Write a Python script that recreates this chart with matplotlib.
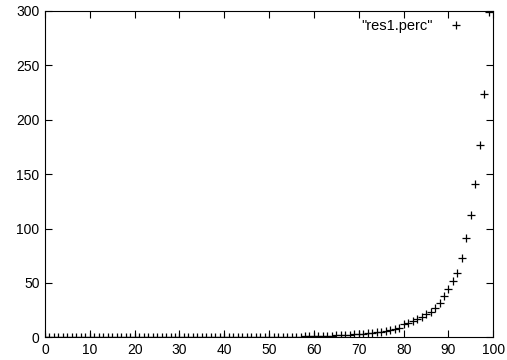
import matplotlib
matplotlib.use("Agg")
import matplotlib.pyplot as plt

plt.rcParams['font.family'] = ['Liberation Sans', 'DejaVu Sans']

x = list(range(0, 100))
y = [0.0, 0.0, 0.0, 0.0, 0.0, 0.0, 0.0, 0.0, 0.0, 0.0,
     0.0, 0.0, 0.0, 0.0, 0.0, 0.0, 0.0, 0.0, 0.0, 0.0,
     0.1, 0.1, 0.1, 0.1, 0.1, 0.1, 0.1, 0.1, 0.1, 0.1,
     0.1, 0.1, 0.1, 0.1, 0.1, 0.1, 0.1, 0.1, 0.1, 0.1,
     0.2, 0.2, 0.2, 0.2, 0.2, 0.2, 0.2, 0.2, 0.2, 0.2,
     0.4, 0.4, 0.4, 0.4, 0.4, 0.4, 0.6, 0.7, 0.8, 0.9,
     0.8, 1.0, 1.2, 1.4, 1.6, 1.8, 2.0, 2.2, 2.5, 2.8,
     3.1, 3.4, 3.8, 4.2, 4.7, 5.2, 5.8, 6.5, 7.3, 8.2,
     12.0, 13.5, 15.0, 17.0, 19.0, 21.2, 23.3, 27.0, 31.6, 38.0,
     44.2, 51.5, 59.5, 73.3, 91.4, 112.9, 140.8, 177.0, 224.0, 299.0]
label = '"res1.perc"'

fig = plt.figure(figsize=(5.07, 3.6), dpi=100)
ax = fig.add_axes([45/507, 22.7/360, (493.3-45)/507, (337.3-11)/360])
ax.plot(x, y, linestyle='none', marker='+', color='black', markersize=6, markeredgewidth=0.9, label=label)
ax.set_xlim(0, 100)
ax.set_ylim(0, 300)
ax.set_xticks(range(0, 101, 10))
ax.set_yticks(range(0, 301, 50))
ax.tick_params(direction='in', length=5, width=0.8, top=True, right=True, labelsize=10, pad=4, colors='black')
for s in ax.spines.values():
    s.set_linewidth(0.8)
leg = ax.legend(loc='upper right', bbox_to_anchor=(463/507, (360-19)/360), bbox_transform=fig.transFigure,
                frameon=False, markerfirst=False, fontsize=10.5, handlelength=1.0, handletextpad=1.1,
                borderpad=0, borderaxespad=0)
fig.savefig('out.png', dpi=100)
